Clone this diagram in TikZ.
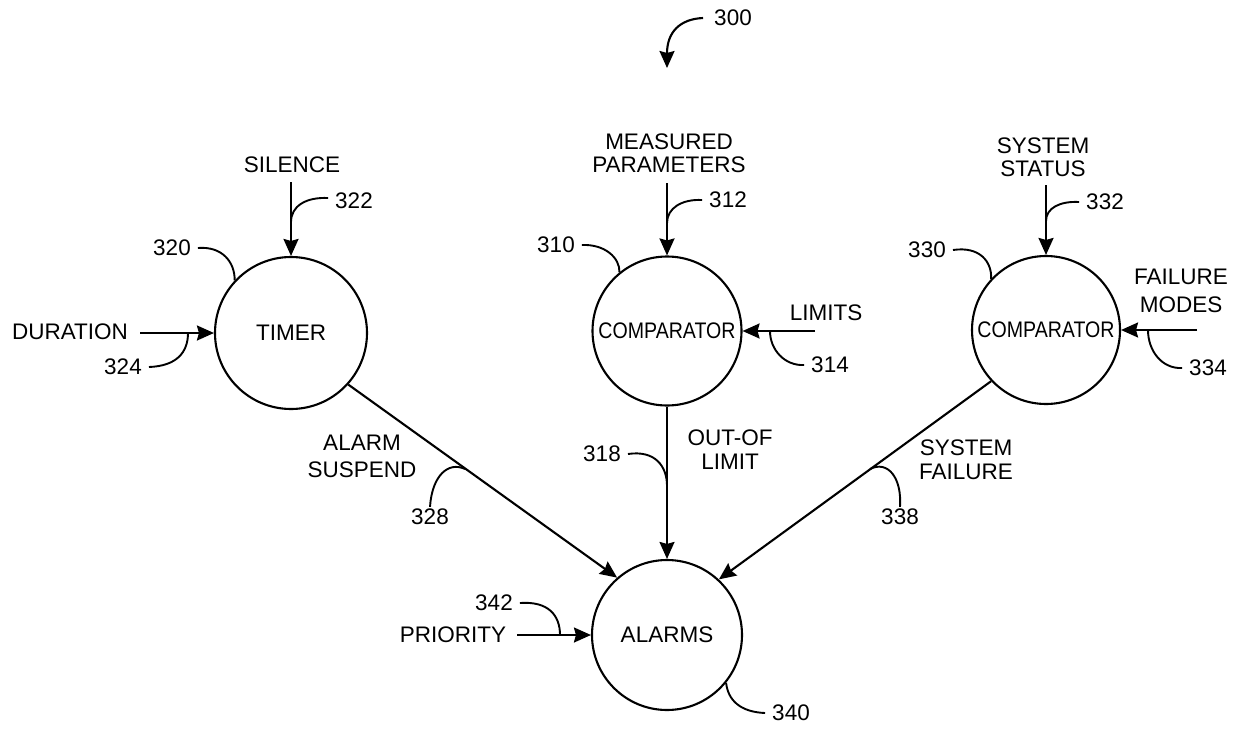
\documentclass[tikz,border=0pt]{standalone}
\usepackage{fontspec}
\setmainfont{Liberation Sans}
\usetikzlibrary{arrows.meta}
\begin{document}
\begin{tikzpicture}[x=1pt,y=-1pt,
  every node/.style={font=\fontsize{22.5}{23}\selectfont},
  circ/.style={circle,draw,line width=2.1pt,inner sep=0pt},
  txt/.style={inner sep=0pt,align=center},
  num/.style={inner xsep=7pt,inner ysep=2pt},
  arr/.style={line width=2.1pt,-{Stealth[length=17pt,width=15pt,inset=2pt]}},
  lead/.style={line width=1.9pt}]
\useasboundingbox (0,0) rectangle (1241,728);

% circles
\node[circ,minimum size=152pt] (timer) at (291,333) {TIMER};
\node[circ,minimum size=149pt] (comp1) at (667,331) {\scalebox{0.87}[1]{COMPARATOR}};
\node[circ,minimum size=148pt] (comp2) at (1046,330) {\scalebox{0.87}[1]{COMPARATOR}};
\node[circ,minimum size=150pt] (alarms) at (667,635) {ALARMS};

% figure number
\node[num] (t300) at (733,18) {300};
\coordinate (e300) at (667,68);
\draw[arr] ([xshift=-4pt]t300.west) .. controls (680,19) and (667,32) .. (e300);

% TIMER inputs
\node[txt] (silence) at (292,165) {SILENCE};
\coordinate (silenceIn) at (291,182);
\draw[arr] (silenceIn) -- (timer.north);
\node[num] (t322) at (354,201) {322};
\coordinate (j322) at (291,222);
\draw[lead] ([yshift=3pt]t322.west) .. controls (306,197) and (291,206) .. (j322);
\node[num] (t320) at (172,248) {320};
\draw[lead] (t320.east) .. controls (222,246) and (235,262) .. (timer.137);
\node[txt] (duration) at (70,332) {DURATION};
\coordinate (durationIn) at (140,333);
\draw[arr] (durationIn) -- (timer.west);
\node[num] (t324) at (123,367) {324};
\coordinate (j324) at (188,333);
\draw[lead] (t324.east) .. controls (176,366) and (188,353) .. (j324);

% middle COMPARATOR inputs
\node[txt] (measured) at (669,153) {MEASURED\\PARAMETERS};
\coordinate (measuredIn) at (667,183);
\draw[arr] (measuredIn) -- (comp1.north);
\node[num] (t312) at (728,200) {312};
\coordinate (j312) at (667,223);
\draw[lead] (t312.west) .. controls (682,199) and (667,208) .. (j312);
\node[num] (t310) at (556,245) {310};
\draw[lead] (t310.east) .. controls (605,244) and (620,258) .. (comp1.129);
\node[txt] (limits) at (826,313) {LIMITS};
\coordinate (limitsIn) at (815,331);
\draw[arr] (limitsIn) -- (comp1.east);
\node[num] (t314) at (830,365) {314};
\coordinate (j314) at (770,331);
\draw[lead] (t314.west) .. controls (785,366) and (770,350) .. (j314);

% right COMPARATOR inputs
\node[txt] (status) at (1043,157) {SYSTEM\\STATUS};
\coordinate (statusIn) at (1046,185);
\draw[arr] (statusIn) -- (comp2.north);
\node[num] (t332) at (1105,202) {332};
\coordinate (j332) at (1046,221);
\draw[lead] (t332.west) .. controls (1060,201) and (1046,208) .. (j332);
\node[num] (t330) at (927,250) {330};
\draw[lead] (t330.east) .. controls (980,246) and (992,262) .. (comp2.137);
\node[txt] (modes) at (1181,291) {FAILURE\\[5pt]MODES};
\coordinate (modesIn) at (1197,330);
\draw[arr] (modesIn) -- (comp2.east);
\node[num] (t334) at (1208,368) {334};
\coordinate (j334) at (1148,330);
\draw[lead] (t334.west) .. controls (1162,369) and (1148,351) .. (j334);

% connectors to ALARMS
\draw[arr] (timer.-42) -- (alarms.131);
\draw[arr] (comp1.south) -- (alarms.north);
\draw[arr] (comp2.223) -- (alarms.47);

\node[txt] (suspend) at (362,456) {ALARM\\[4pt]SUSPEND};
\node[num] (t328) at (430,517) {328};
\coordinate (j328) at (465,469);
\draw[lead] (j328) .. controls (448,461) and (432,476) .. (t328.north);

\node[txt] (outof) at (730,450) {OUT-OF\\[1pt]LIMIT};
\node[num] (t318) at (602,454) {318};
\coordinate (j318) at (667,486);
\draw[lead] (t318.east) .. controls (655,450) and (667,466) .. (j318);

\node[txt] (sysfail) at (966,460) {SYSTEM\\[1pt]FAILURE};
\node[num] (t338) at (900,517) {338};
\coordinate (j338) at (870,469);
\draw[lead] (j338) .. controls (888,460) and (902,478) .. (t338.north);

% ALARMS inputs
\node[txt] (priority) at (453,635) {PRIORITY};
\coordinate (priorityIn) at (517,635);
\draw[arr] (priorityIn) -- (alarms.west);
\node[num] (t342) at (494,603) {342};
\coordinate (j342) at (560,635);
\draw[lead] (t342.east) .. controls (548,601) and (560,615) .. (j342);
\node[num] (t340) at (791,713) {340};
\draw[lead] (alarms.-39) .. controls (728,700) and (740,712) .. (t340.west);
\end{tikzpicture}
\end{document}
